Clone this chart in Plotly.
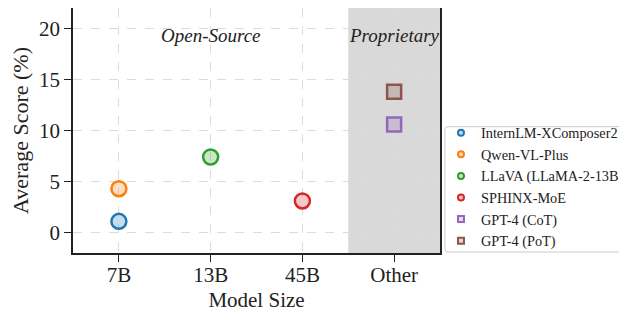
import plotly.graph_objects as go

categories = ["7B", "13B", "45B", "Other"]
models = ["InternLM-XComposer2", "Qwen-VL-Plus", "LLaVA (LLaMA-2-13B)", "SPHINX-MoE", "GPT-4 (CoT)", "GPT-4 (PoT)"]
model_size = ["7B", "7B", "13B", "45B", "Other", "Other"]
scores = [1.1, 4.3, 7.4, 3.1, 10.6, 13.8]
colors = ["#1f77b4", "#ff7f0e", "#2ca02c", "#d62728", "#9467bd", "#8c564b"]
symbols = ["circle", "circle", "circle", "circle", "square", "square"]
y_ticks = [0, 5, 10, 15, 20]

def rgba(h, a):
    h = h.lstrip("#")
    r, g, b = int(h[0:2], 16), int(h[2:4], 16), int(h[4:6], 16)
    return f"rgba({r},{g},{b},{a})"

FONT = "Liberation Serif"
W, H = 619, 304
ML, MR, MT, MB = 65, 187, 0, 59
PW, PH = W - ML - MR, H - MT - MB

fig = go.Figure()

xidx = {c: i for i, c in enumerate(categories)}
for m, s, v, c, sym in zip(models, model_size, scores, colors, symbols):
    fig.add_trace(go.Scatter(
        x=[xidx[s]], y=[v], mode="markers", showlegend=False,
        marker=dict(symbol=sym, size=15 if sym == "circle" else 14, color=rgba(c, 0.25),
                    line=dict(color=c, width=2.5)),
    ))
    fig.add_trace(go.Scatter(
        x=[None], y=[None], mode="markers", name=m,
        marker=dict(symbol=sym, size=6, color=rgba(c, 0.25), line=dict(color=c, width=2)),
    ))

fig.add_shape(type="rect", xref="x", yref="paper", x0=2.5, x1=3.5, y0=0, y1=1,
              fillcolor="#d9d9d9", line=dict(width=0), layer="below")

# legend frame (rounded left corners)
x0, x1 = 1.0136, 1.6
y0, y1 = 0.004, 0.5155
rx, ry = 3 / PW, 3 / PH
path = (f"M {x1} {y0} L {x0+rx} {y0} Q {x0} {y0} {x0} {y0+ry} "
        f"L {x0} {y1-ry} Q {x0} {y1} {x0+rx} {y1} L {x1} {y1}")
fig.add_shape(type="path", xref="paper", yref="paper", path=path,
              line=dict(color="#cccccc", width=1), fillcolor="white", layer="above")

fig.add_annotation(x=1, y=19.3, xref="x", yref="y", text="<i>Open-Source</i>", showarrow=False,
                   font=dict(family=FONT, size=19, color="#222"))
fig.add_annotation(x=3, y=19.3, xref="x", yref="y", text="<i>Proprietary</i>", showarrow=False,
                   font=dict(family=FONT, size=19, color="#222"))

fig.update_layout(
    width=W, height=H,
    margin=dict(l=ML, r=MR, t=MT, b=MB, autoexpand=False),
    paper_bgcolor="white", plot_bgcolor="white",
    font=dict(family=FONT, size=21, color="#222"),
    xaxis=dict(range=[-0.5, 3.5], tickmode="array", tickvals=list(range(len(categories))),
               ticktext=categories, showline=True, linecolor="#222", linewidth=1.5, mirror=True,
               ticks="outside", ticklen=7, tickcolor="#222", automargin=False, ticklabelstandoff=-5,
               showgrid=True, gridcolor="#dcdcdc", griddash="dash", gridwidth=1, zeroline=False,
               title=dict(text="Model Size", font=dict(size=21), standoff=8)),
    yaxis=dict(range=[-2, 22], tickvals=y_ticks, showline=True, linecolor="#222", linewidth=1.5,
               mirror=True, ticks="outside", ticklen=7, tickcolor="#222", automargin=False,
               showgrid=True, gridcolor="#dcdcdc", griddash="dash", gridwidth=1, zeroline=False,
               title=dict(text="Average Score (%)", font=dict(size=22), standoff=10)),
    legend=dict(x=1.0027, y=-0.016, xanchor="left", yanchor="bottom", bgcolor="rgba(0,0,0,0)",
                borderwidth=0, font=dict(family=FONT, size=14.3, color="#222"),
                itemwidth=30, tracegroupgap=0),
)

fig.write_html("out.html")
